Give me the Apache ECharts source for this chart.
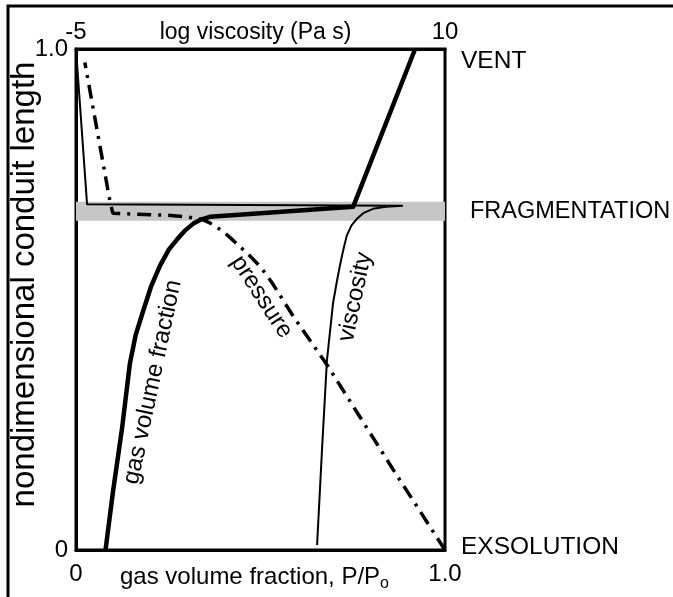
<!DOCTYPE html>
<html><head><meta charset="utf-8">
<script src="https://cdn.jsdelivr.net/npm/echarts@6/dist/echarts.min.js"></script>
<style>html,body{margin:0;padding:0;background:#fff}#c{width:673px;height:597px}</style>
</head><body><div id="c"></div>
<script>
// ---- data ----
// gas volume fraction: [fraction, nondimensional conduit length]
const gasFraction = [[0.08,0],[0.100,0.115],[0.125,0.244],[0.146,0.372],[0.162,0.43],[0.182,0.477],[0.203,0.525],[0.228,0.568],[0.252,0.600],[0.274,0.620],[0.296,0.638],[0.317,0.651],[0.340,0.660],[0.363,0.665],[0.50,0.672],[0.751,0.685],[0.919,1.0]];
// pressure P/Po: [P/Po, length]
const pressure = [[1.0,0],[0.86,0.16],[0.77,0.265],[0.68,0.37],[0.59,0.465],[0.53,0.535],[0.50,0.565],[0.47,0.588],[0.445,0.605],[0.42,0.622],[0.40,0.635],[0.37,0.650],[0.345,0.659],[0.30,0.665],[0.25,0.668],[0.10,0.672],[0.092,0.696],[0.024,0.973]];
// log viscosity (Pa s): [log viscosity, length]
const viscosity = [[4.8,0.01],[5.0,0.2],[5.2,0.378],[5.45,0.493],[5.6,0.535],[5.73,0.568],[5.87,0.600],[6.01,0.628],[6.2,0.648],[6.42,0.661],[6.7,0.673],[7.07,0.681],[7.6,0.685],[8.29,0.687],[-4.55,0.690],[-5,1.0]];
// fragmentation zone (length range)
const fragBand = [0.657, 0.695];
// tick labels
const bottomTickLabels = ['0', '1.0'];   // at 0 and 1
const topTickLabels = ['-5', '10'];      // at -5 and 10
const leftTickLabels = ['0', '1.0'];     // at 0 and 1
// zone names on the right and their lengths
const zoneNames = ['VENT', 'FRAGMENTATION', 'EXSOLUTION'];
const zoneLengths = [1.0, 0.676, 0.0];
// curve annotations: [text, x (bottom axis units), length, rotation deg]
const curveLabels = [['gas volume fraction', 0.208, 0.335, 78], ['pressure', 0.503, 0.505, -57], ['viscosity', 0.757, 0.505, 78]];

const FONT = '"Liberation Sans", Arial, Helvetica, sans-serif';
const FS = 24;
const chart = echarts.init(document.getElementById('c'), null, {renderer: 'canvas'});
const axisLine = {show: true, lineStyle: {color: '#000', width: 3}};
chart.setOption({
  animation: false,
  backgroundColor: '#fff',
  grid: {left: 76, right: 228, top: 49, bottom: 43, show: true, borderColor: '#000', borderWidth: 3, backgroundColor: 'transparent'},
  xAxis: [
    {type: 'value', position: 'bottom', min: 0, max: 1, interval: 1,
     axisLine, axisTick: {show: false}, splitLine: {show: false},
     axisLabel: {color: '#000', fontSize: FS, fontFamily: FONT, margin: 12, formatter: v => bottomTickLabels[Math.round(v)]},
     name: 'gas volume fraction, P/P{s|o}', nameLocation: 'middle', nameGap: 12, nameMoveOverlap: false,
     nameTextStyle: {color: '#000', fontSize: FS, fontFamily: FONT, verticalAlign: 'top', padding: [0, 12, 0, 0],
       rich: {s: {fontSize: 16, fontFamily: FONT, color: '#000', padding: [14, 0, 0, 0]}}}},
    {type: 'value', position: 'top', min: -5, max: 10, interval: 15,
     axisLine, axisTick: {show: false}, splitLine: {show: false},
     axisLabel: {color: '#000', fontSize: FS, fontFamily: FONT, margin: 5, formatter: v => topTickLabels[v === -5 ? 0 : 1]},
     name: 'log viscosity (Pa s)', nameLocation: 'middle', nameGap: 5, nameMoveOverlap: false,
     nameTextStyle: {color: '#000', fontSize: 23, fontFamily: FONT, verticalAlign: 'bottom', padding: [0, 10, 0, 0]}}
  ],
  yAxis: [
    {type: 'value', min: 0, max: 1, interval: 1,
     axisLine, axisTick: {show: false}, splitLine: {show: false},
     axisLabel: {color: '#000', fontSize: FS, fontFamily: FONT, margin: 8, formatter: v => leftTickLabels[Math.round(v)]},
     name: 'nondimensional conduit length', nameLocation: 'middle', nameGap: 35, nameRotate: 90, nameMoveOverlap: false,
     nameTextStyle: {color: '#000', fontSize: 33, fontFamily: FONT, padding: [0, 0, 0, 30]}}
  ],
  series: [
    {type: 'line', name: 'band', xAxisIndex: 0, yAxisIndex: 0, data: [], silent: true,
     markArea: {silent: true, itemStyle: {color: '#c6c6c6'}, data: [[{yAxis: fragBand[0]}, {yAxis: fragBand[1]}]]}},
    {type: 'line', name: 'viscosity', xAxisIndex: 1, yAxisIndex: 0, data: viscosity, showSymbol: false,
     lineStyle: {color: '#000', width: 2}, z: 3},
    {type: 'line', name: 'pressure', xAxisIndex: 0, yAxisIndex: 0, data: pressure, showSymbol: false,
     lineStyle: {color: '#000', width: 3.5, type: [14, 7, 3, 7]}, z: 4},
    {type: 'line', name: 'gas volume fraction', xAxisIndex: 0, yAxisIndex: 0, data: gasFraction, showSymbol: false,
     lineStyle: {color: '#000', width: 4.5, join: 'round'}, z: 5}
  ]
});

const graphics = [
  {type: 'polyline', shape: {points: [[8, 597], [8, 6], [673, 6]]}, style: {stroke: '#000', lineWidth: 3, fill: null}, silent: true}
];
zoneNames.forEach((n, i) => {
  const p = chart.convertToPixel({xAxisIndex: 0, yAxisIndex: 0}, [1, zoneLengths[i]]);
  const dy = [12, 0, -3][i];
  const dx = [16, 25, 16][i];
  const fs = [24.5, 23.5, 24.5][i];
  graphics.push({type: 'text', x: p[0] + dx, y: p[1] + dy, style: {text: n, fontSize: fs, fontFamily: FONT, fill: '#000', textAlign: 'left', textVerticalAlign: 'middle'}, silent: true});
});
curveLabels.forEach(([t, x, y, r]) => {
  const p = chart.convertToPixel({xAxisIndex: 0, yAxisIndex: 0}, [x, y]);
  graphics.push({type: 'text', x: p[0], y: p[1], rotation: r * Math.PI / 180, style: {text: t, fontSize: 24, fontFamily: FONT, fill: '#000', textAlign: 'center', textVerticalAlign: 'middle'}, silent: true});
});
chart.setOption({graphic: graphics});
</script></body></html>
